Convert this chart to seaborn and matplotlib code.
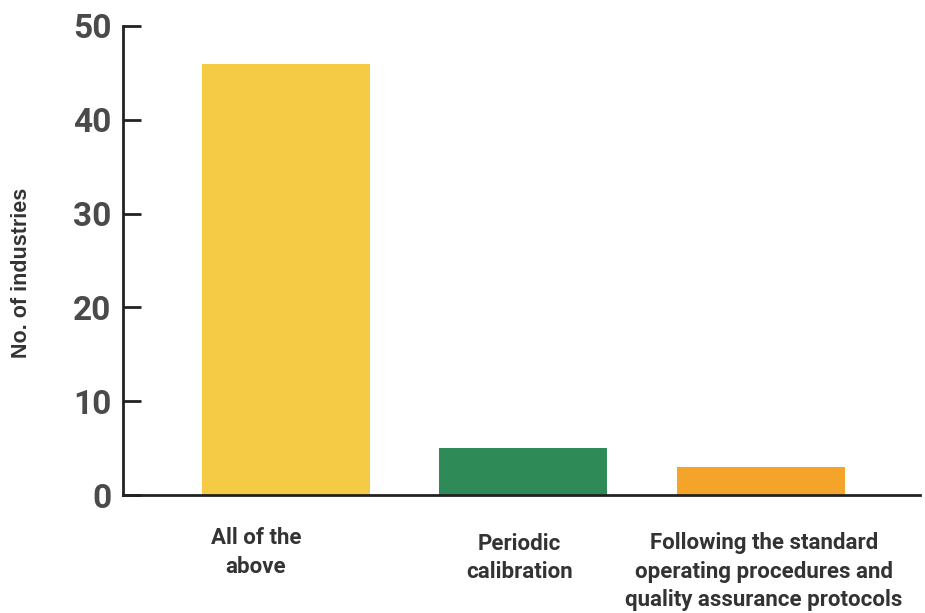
import matplotlib
matplotlib.use("Agg")
import matplotlib.pyplot as plt
import matplotlib.transforms as mtransforms
import seaborn as sns
import pandas as pd

categories = ["All of the\nabove", "Periodic\ncalibration",
              "Following the standard\noperating procedures and\nquality assurance protocols"]
values = [46, 5, 3]
colors = ["#F5CB45", "#2E8B57", "#F5A42A"]
yticks = [0, 10, 20, 30, 40, 50]

sns.set_theme(style="white")
plt.rcParams['font.family'] = ['Roboto', 'DejaVu Sans']

df = pd.DataFrame({"cat": categories, "val": values})

fig = plt.figure(figsize=(9.25, 6.13), dpi=100)
ax = fig.add_axes([123/925, 1-495/613, (920-123)/925, (495-26)/613])

sns.barplot(data=df, x="cat", y="val", hue="cat", palette=colors,
            width=0.707, dodge=False, legend=False, ax=ax, saturation=1,
            linewidth=0, edgecolor='none')

ax.set_ylim(0, 50)
ax.set_xlim(-0.686, 2.670)
ax.set_yticks(yticks)
ax.set_yticklabels([str(t) for t in yticks], fontsize=24, fontweight='bold',
                   color='#4a4a4a', family='Roboto')
ax.tick_params(axis='y', direction='in', length=13, width=2, color='#222222',
               pad=8.5, left=True)
ax.set_xticks(range(len(categories)))
ax.set_xticklabels(categories, fontsize=16, fontweight='bold', color='#333333',
                   linespacing=1.36)
ax.tick_params(axis='x', length=0, pad=27)

# individual label offsets to match reference
offs = [(-30, 5), (-4, 0), (3, 0)]
for lab, (dx, dy) in zip(ax.get_xticklabels(), offs):
    lab.set_transform(lab.get_transform() +
                      mtransforms.ScaledTranslation(dx/100, dy/100, fig.dpi_scale_trans))

for s in ['top', 'right']:
    ax.spines[s].set_visible(False)
for s in ['left', 'bottom']:
    ax.spines[s].set_color('#222222')
    ax.spines[s].set_linewidth(2)

ax.set_xlabel("")
ax.set_ylabel("")
fig.text(22/925, 1-273/613, "No. of industries", rotation=90, ha='center', va='center',
         fontsize=15.5, fontweight='bold', color='#333333', family='Liberation Sans')

fig.savefig("out.png", dpi=100, facecolor='white')
